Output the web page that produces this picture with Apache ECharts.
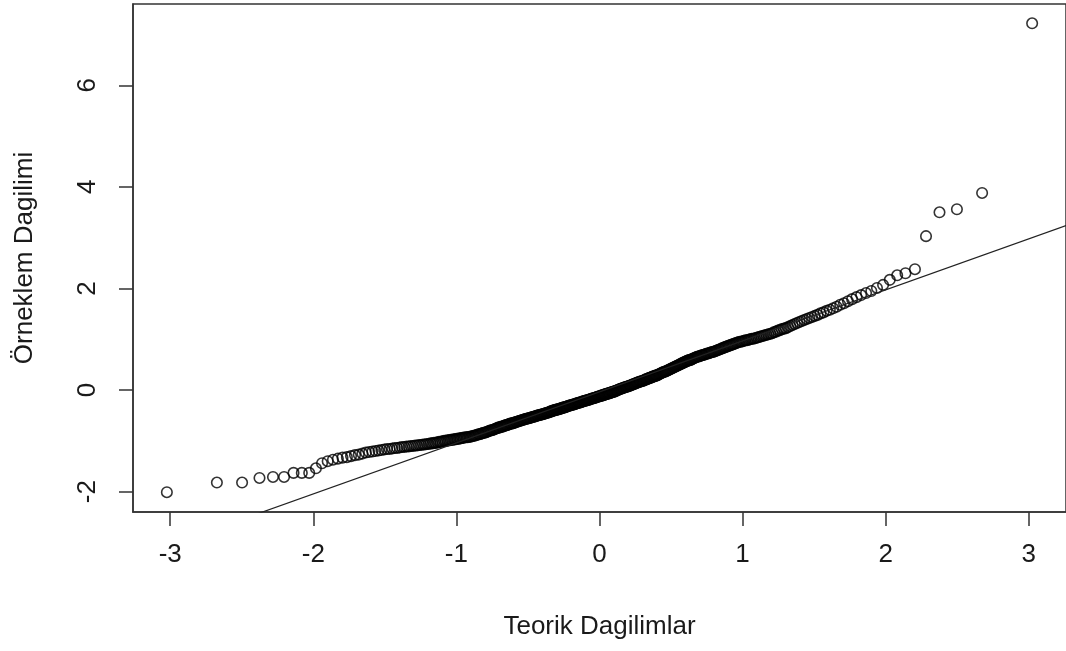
<!DOCTYPE html>
<html>
<head>
<meta charset="utf-8">
<title>Normal Q-Q</title>
<script src="https://cdn.jsdelivr.net/npm/echarts@6/dist/echarts.min.js"></script>
<style>
  html, body { margin: 0; padding: 0; background: #ffffff; }
  #chart { width: 1066px; height: 651px; }
</style>
</head>
<body>
<div id="chart"></div>
<script>
// Sorted sample values (n = 400)
const sampleValues = [
  -2.01,-1.82,-1.82,-1.73,-1.71,-1.71,-1.63,-1.63,-1.63,-1.54,
  -1.44,-1.40,
  -1.37,-1.35,
  -1.33,-1.32,-1.30,
  -1.28,-1.27,-1.25,-1.23,
  -1.22,-1.21,-1.20,-1.19,-1.18,
  -1.17,-1.16,-1.16,-1.15,-1.14,-1.14,
  -1.13,-1.12,-1.12,-1.11,-1.11,-1.10,
  -1.10,-1.09,-1.09,-1.08,-1.08,-1.07,-1.07,
  -1.06,-1.06,-1.05,-1.05,-1.04,-1.04,-1.03,-1.02,-1.02,
  -1.01,-1.00,-1.00,-0.99,-0.99,-0.98,-0.98,-0.97,-0.97,
  -0.96,-0.96,-0.95,-0.95,-0.94,-0.94,-0.93,-0.93,-0.93,-0.92,
  -0.92,-0.91,-0.90,-0.90,-0.89,-0.88,-0.87,-0.87,-0.86,-0.85,-0.84,
  -0.84,-0.83,-0.82,-0.81,-0.80,-0.79,-0.79,-0.78,-0.77,-0.76,-0.75,-0.74,
  -0.74,-0.73,-0.72,-0.72,-0.71,-0.70,-0.69,-0.69,-0.68,-0.67,-0.66,-0.66,-0.65,
  -0.65,-0.64,-0.63,-0.63,-0.62,-0.61,-0.61,-0.60,-0.59,-0.59,-0.58,-0.57,-0.57,-0.56,
  -0.56,-0.55,-0.55,-0.54,-0.53,-0.53,-0.52,-0.52,-0.51,-0.50,-0.50,-0.49,-0.49,-0.48,
  -0.48,-0.47,-0.47,-0.46,-0.45,-0.45,-0.44,-0.44,-0.43,-0.42,-0.42,-0.41,-0.40,-0.40,-0.39,
  -0.39,-0.38,-0.38,-0.37,-0.37,-0.36,-0.35,-0.35,-0.34,-0.34,-0.33,-0.33,-0.32,-0.31,-0.31,-0.30,
  -0.30,-0.29,-0.29,-0.28,-0.28,-0.27,-0.26,-0.26,-0.25,-0.25,-0.24,-0.24,-0.23,-0.22,-0.22,-0.21,
  -0.21,-0.20,-0.20,-0.19,-0.19,-0.18,-0.17,-0.17,-0.16,-0.16,-0.15,-0.15,-0.14,-0.13,-0.13,-0.12,
  -0.12,-0.11,-0.11,-0.10,-0.10,-0.09,-0.08,-0.08,-0.07,-0.07,-0.06,-0.06,-0.05,-0.04,-0.04,-0.03,
  -0.03,-0.02,-0.01,-0.01,0.00,0.01,0.02,0.02,0.03,0.04,0.04,0.05,0.06,0.06,0.07,
  0.07,0.08,0.09,0.09,0.10,0.11,0.12,0.12,0.13,0.14,0.15,0.15,0.16,0.17,0.17,0.18,
  0.18,0.19,0.20,0.21,0.21,0.22,0.23,0.24,0.24,0.25,0.26,0.27,0.27,0.28,0.29,
  0.29,0.30,0.31,0.32,0.33,0.34,0.35,0.36,0.36,0.37,0.38,0.39,0.40,0.41,
  0.42,0.43,0.44,0.45,0.46,0.47,0.48,0.49,0.50,0.51,0.52,0.53,0.54,0.55,
  0.56,0.57,0.58,0.59,0.59,0.60,0.61,0.62,0.63,0.64,0.65,0.66,0.66,
  0.67,0.68,0.69,0.69,0.70,0.71,0.72,0.72,0.73,0.74,0.75,0.75,
  0.76,0.77,0.78,0.79,0.80,0.81,0.82,0.83,0.84,0.85,0.86,
  0.87,0.88,0.89,0.90,0.91,0.92,0.93,0.94,0.95,0.95,
  0.96,0.97,0.98,0.98,0.99,1.00,1.01,1.01,1.02,
  1.03,1.04,1.05,1.06,1.07,1.08,1.09,1.10,1.11,
  1.12,1.14,1.15,1.17,1.18,1.20,1.21,
  1.22,1.24,1.26,1.28,1.30,1.32,
  1.34,1.36,1.38,1.40,1.42,1.44,
  1.46,1.48,1.51,1.53,1.56,
  1.58,1.61,1.64,1.68,
  1.71,1.75,1.79,
  1.83,1.87,1.91,
  1.95,2.01,2.07,2.17,2.26,2.30,2.38,3.03,3.50,3.56,3.88,7.22
];

const xTicks = [-3, -2, -1, 0, 1, 2, 3];
const yTicks = [-2, 0, 2, 4, 6];
const xTitle = 'Teorik Dagilimlar';
const yTitle = 'Örneklem Dagilimi';

// Inverse of the standard normal CDF (Acklam's rational approximation)
function qnorm(p) {
  const a = [-3.969683028665376e+01, 2.209460984245205e+02, -2.759285104469687e+02, 1.383577518672690e+02, -3.066479806614716e+01, 2.506628277459239e+00];
  const b = [-5.447609879822406e+01, 1.615858368580409e+02, -1.556989798598866e+02, 6.680131188771972e+01, -1.328068155288572e+01];
  const c = [-7.784894002430293e-03, -3.223964580411365e-01, -2.400758277161838e+00, -2.549671010115750e+00, 4.374664141464968e+00, 2.938163982698783e+00];
  const d = [7.784695709041462e-03, 3.224671290700398e-01, 2.445134137142996e+00, 3.754408661907416e+00];
  const pl = 0.02425, ph = 1 - pl;
  let q, r;
  if (p < pl) {
    q = Math.sqrt(-2 * Math.log(p));
    return (((((c[0]*q+c[1])*q+c[2])*q+c[3])*q+c[4])*q+c[5]) / ((((d[0]*q+d[1])*q+d[2])*q+d[3])*q+1);
  }
  if (p <= ph) {
    q = p - 0.5; r = q * q;
    return (((((a[0]*r+a[1])*r+a[2])*r+a[3])*r+a[4])*r+a[5])*q / (((((b[0]*r+b[1])*r+b[2])*r+b[3])*r+b[4])*r+1);
  }
  q = Math.sqrt(-2 * Math.log(1 - p));
  return -(((((c[0]*q+c[1])*q+c[2])*q+c[3])*q+c[4])*q+c[5]) / ((((d[0]*q+d[1])*q+d[2])*q+d[3])*q+1);
}

// Theoretical quantiles at plotting positions (i - 0.5) / n
const n = sampleValues.length;
const points = sampleValues.map((v, i) => [qnorm((i + 0.5) / n), v]);

// Reference line through the first and third quartiles
function quantile7(sorted, p) {
  const h = (sorted.length - 1) * p, lo = Math.floor(h);
  return sorted[lo] + (h - lo) * (sorted[Math.min(lo + 1, sorted.length - 1)] - sorted[lo]);
}
const q1 = quantile7(sampleValues, 0.25), q3 = quantile7(sampleValues, 0.75);
const slope = (q3 - q1) / (qnorm(0.75) - qnorm(0.25));
const intercept = q1 - slope * qnorm(0.25);

const xMin = -3.26, xMax = 3.26, yMin = -2.4, yMax = 7.6;
const refLine = [xMin, xMax].map(x => [x, intercept + slope * x]);

const font = 'Liberation Sans, Arial, sans-serif';
const ink = '#1a1a1a';
const frame = '#333333';

const chart = echarts.init(document.getElementById('chart'), null, { renderer: 'canvas' });
chart.setOption({
  animation: false,
  backgroundColor: '#ffffff',
  grid: {
    left: 133, top: 4, width: 936, height: 508,
    show: true, borderColor: frame, borderWidth: 1.5, backgroundColor: 'transparent'
  },
  xAxis: {
    type: 'value', min: xMin, max: xMax,
    name: xTitle, nameLocation: 'middle', nameGap: 102,
    nameTextStyle: { fontFamily: font, fontSize: 26, color: ink },
    axisLine: { show: true, onZero: false, lineStyle: { color: frame, width: 1.5 } },
    axisTick: { show: true, inside: false, length: 14, customValues: xTicks, lineStyle: { color: frame, width: 1.5 } },
    axisLabel: { customValues: xTicks, margin: 30, fontFamily: font, fontSize: 26, color: ink },
    splitLine: { show: false }
  },
  yAxis: {
    type: 'value', min: yMin, max: yMax,
    name: yTitle, nameLocation: 'middle', nameGap: 95,
    nameTextStyle: { fontFamily: font, fontSize: 26, color: ink },
    axisLine: { show: true, onZero: false, lineStyle: { color: frame, width: 1.5 } },
    axisTick: { show: true, inside: false, length: 14, customValues: yTicks, lineStyle: { color: frame, width: 1.5 } },
    axisLabel: { customValues: yTicks, rotate: 90, margin: 32, fontFamily: font, fontSize: 26, color: ink },
    splitLine: { show: false }
  },
  series: [
    {
      type: 'scatter',
      data: points,
      symbol: 'circle',
      symbolSize: 10.5,
      itemStyle: { color: 'transparent', borderColor: '#000000', borderWidth: 1.6 },
      emphasis: { disabled: true },
      silent: true
    },
    {
      type: 'line',
      data: refLine,
      symbol: 'none',
      clip: true,
      lineStyle: { color: '#222222', width: 1.2 },
      silent: true
    }
  ]
});
</script>
</body>
</html>
